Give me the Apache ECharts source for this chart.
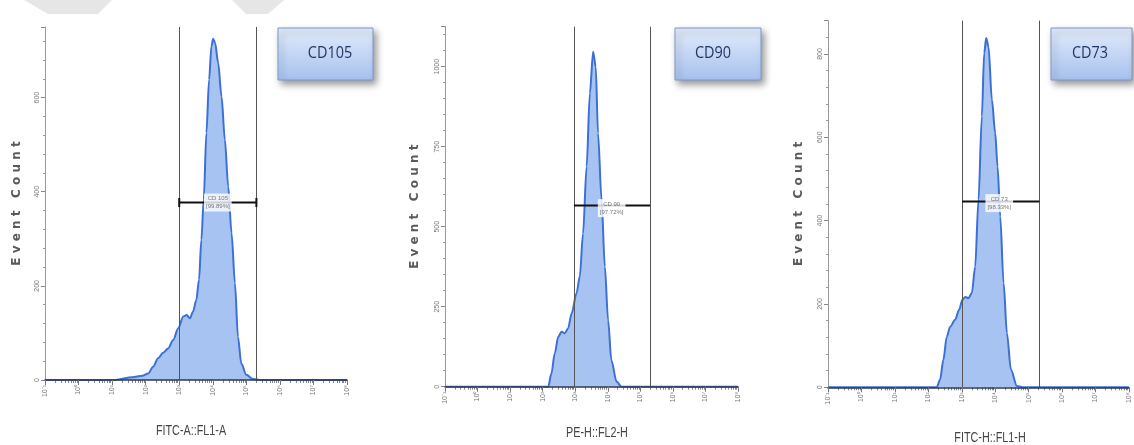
<!DOCTYPE html>
<html>
<head>
<meta charset="utf-8">
<script src="https://cdn.jsdelivr.net/npm/echarts@6/dist/echarts.min.js"></script>
<style>
  html, body { margin: 0; padding: 0; background: #fff; }
  #chart { width: 1134px; height: 445px; }
</style>
</head>
<body>
<div id="chart"></div>
<script>
// x axis: log10 of fluorescence intensity, one tick per decade
const decades = [-1, 0, 1, 2, 3, 4, 5, 6, 7, 8];

// CD105 histogram (log10 intensity / event count)
const cd105Log = [-1, 1.1, 1.6, 1.9, 2.08, 2.22, 2.37, 2.52, 2.67, 2.82, 2.97, 3.12, 3.22, 3.32, 3.41, 3.51, 3.59, 3.66, 3.73, 3.81, 3.89, 3.96, 4.01, 4.07, 4.16, 4.26, 4.36, 4.46, 4.56, 4.66, 4.75, 4.85, 5.0, 5.2, 5.4, 8];
const cd105Count = [0, 0, 6, 9, 14, 28, 46, 58, 67, 85, 110, 135, 138, 131, 145, 170, 213, 298, 383, 525, 638, 709, 725, 716, 674, 603, 511, 411, 312, 206, 92, 35, 11, 2, 0, 0];

// CD90 histogram
const cd90Log = [-1, 2.17, 2.27, 2.37, 2.48, 2.58, 2.68, 2.78, 2.89, 3.04, 3.14, 3.24, 3.35, 3.45, 3.55, 3.63, 3.70, 3.81, 3.91, 4.01, 4.11, 4.27, 4.42, 8];
const cd90Count = [0, 0, 42, 104, 156, 172, 167, 182, 229, 292, 344, 479, 688, 917, 1047, 1000, 792, 583, 375, 208, 83, 16, 0, 0];

// CD73 histogram
const cd73Log = [-1, 2.25, 2.35, 2.45, 2.55, 2.65, 2.80, 2.92, 3.02, 3.10, 3.20, 3.30, 3.40, 3.50, 3.60, 3.67, 3.73, 3.80, 3.90, 4.00, 4.07, 4.15, 4.25, 4.35, 4.47, 4.65, 4.85, 8];
const cd73Count = [0, 0, 18, 66, 121, 145, 162, 186, 210, 217, 214, 226, 289, 450, 650, 802, 838, 817, 690, 610, 530, 410, 250, 130, 42, 3, 0, 0];

// panel texts and axis ranges
const markers = ['CD105', 'CD90', 'CD73'];
const xTitles = ['FITC-A::FL1-A', 'PE-H::FL2-H', 'FITC-H::FL1-H'];
const yMax = [750, 1125, 880];
const yStep = [200, 250, 200];

// gate (log10 from / to), bar height, gate label
const gateFrom = [3.0, 2.96, 3.01];
const gateTo = [5.3, 5.3, 5.32];
const gateLevel = [377, 566, 446];
const gateText = ['CD 105\n[99.89%]', 'CD 90\n[97.72%]', 'CD 73\n[98.33%]'];
const gateTextLog = [4.15, 4.12, 4.12];
const gateTextCount = [377, 558, 442];

const histLog = [cd105Log, cd90Log, cd73Log];
const histCount = [cd105Count, cd90Count, cd73Count];

// layout (pixels)
const rects = [
  { left: 45, top: 27, width: 302, height: 353 },
  { left: 445, top: 26.7, width: 293, height: 360 },
  { left: 828, top: 20.6, width: 301, height: 366.7 }
];
const yNameGap = [22, 24, 23];
const xTitlePos = [[191, 431], [597, 433], [990, 438]];
const boxes = [
  { x: 278, y: 28, w: 95, h: 52, tx: 330 },
  { x: 675, y: 28, w: 86, h: 52, tx: 713 },
  { x: 1051, y: 28, w: 81, h: 52, tx: 1090 }
];

const supMap = { '-': '⁻', '0': '⁰', '1': '¹', '2': '²', '3': '³', '4': '⁴', '5': '⁵', '6': '⁶', '7': '⁷', '8': '⁸', '9': '⁹' };
function pow10(v) {
  return '10' + String(v).split('').map(c => supMap[c] || c).join('');
}

// log-spaced minor ticks (2..9 inside every decade)
const minorTicks = [];
for (let d = decades[0]; d < decades[decades.length - 1]; d++) {
  for (let k = 2; k <= 9; k++) minorTicks.push(d + Math.log10(k));
}

const chart = echarts.init(document.getElementById('chart'));

const grid = [], xAxis = [], yAxis = [], series = [], graphic = [];

for (let i = 0; i < 3; i++) {
  // main grid + an overlay grid for the minor log ticks
  grid.push(rects[i]);
  grid.push(rects[i]);
  const g = 2 * i;

  xAxis.push({
    gridIndex: g,
    type: 'value',
    min: -1,
    max: 8,
    interval: 1,
    z: 5,
    axisLine: { lineStyle: { color: '#2f3850', width: 1.5 } },
    axisTick: { length: 5, lineStyle: { color: '#777' } },
    axisLabel: { rotate: 90, fontSize: 7, color: '#777', margin: 5, formatter: v => pow10(v) },
    splitLine: { show: false }
  });
  xAxis.push({
    gridIndex: g + 1,
    type: 'value',
    min: -1,
    max: 8,
    axisLine: { show: false },
    axisTick: { customValues: minorTicks, length: 3, lineStyle: { color: '#888' } },
    axisLabel: { show: false },
    splitLine: { show: false }
  });

  yAxis.push({
    gridIndex: g,
    type: 'value',
    min: 0,
    max: yMax[i],
    interval: yStep[i],
    axisLine: { show: true, onZero: false, lineStyle: { color: '#999' } },
    axisTick: { show: true, length: 4, lineStyle: { color: '#888' } },
    minorTick: { show: true, splitNumber: 5, length: 2, lineStyle: { color: '#999' } },
    axisLabel: { rotate: 90, fontSize: 7, color: '#777', margin: 4, showMaxLabel: false, formatter: v => String(v) },
    splitLine: { show: false },
    name: 'E v e n t   C o u n t',
    nameLocation: 'middle',
    nameRotate: 90,
    nameGap: yNameGap[i],
    nameTextStyle: { fontFamily: '"DejaVu Sans", sans-serif', fontWeight: 'bold', fontSize: 12, color: '#5a5a5a' }
  });
  yAxis.push({ gridIndex: g + 1, type: 'value', min: 0, max: yMax[i], show: false });

  // histogram
  series.push({
    type: 'line',
    xAxisIndex: g,
    yAxisIndex: g,
    data: histLog[i].map((x, j) => [x, histCount[i][j]]),
    showSymbol: false,
    smooth: 0.3,
    smoothMonotone: 'x',
    lineStyle: { color: '#3c70d6', width: 2 },
    areaStyle: { color: '#9dbcf0', opacity: 0.9 },
    markLine: {
      silent: true,
      symbol: 'none',
      label: { show: false },
      lineStyle: { color: '#555', width: 1, type: 'solid' },
      data: [{ xAxis: gateFrom[i] }, { xAxis: gateTo[i] }]
    },
    z: 2
  });

  // gate bar
  series.push({
    type: 'line',
    xAxisIndex: g,
    yAxisIndex: g,
    data: [[gateFrom[i], gateLevel[i]], [gateTo[i], gateLevel[i]]],
    symbol: i === 0 ? 'rect' : 'none',
    symbolSize: [2, 9],
    itemStyle: { color: '#111' },
    lineStyle: { color: '#111', width: 2 },
    z: 6
  });

  // gate label
  series.push({
    type: 'scatter',
    xAxisIndex: g,
    yAxisIndex: g,
    data: [[gateTextLog[i], gateTextCount[i]]],
    symbolSize: 1,
    itemStyle: { color: 'rgba(0,0,0,0)' },
    label: {
      show: true,
      position: 'inside',
      formatter: gateText[i],
      fontSize: 6,
      lineHeight: 8,
      color: '#555',
      fontFamily: '"Liberation Sans Narrow", sans-serif',
      backgroundColor: '#fff',
      padding: [1, 2]
    },
    z: 7
  });

  // x axis title, condensed like the original
  graphic.push({
    type: 'text',
    x: xTitlePos[i][0],
    y: xTitlePos[i][1],
    scaleX: 0.72,
    style: {
      text: xTitles[i],
      x: 0,
      y: 0,
      align: 'center',
      verticalAlign: 'middle',
      fontFamily: '"Liberation Sans", sans-serif',
      fontSize: 15,
      fill: '#444'
    },
    z: 3
  });

  // marker title boxes
  const b = boxes[i];
  graphic.push({
    type: 'rect',
    shape: { x: b.x, y: b.y, width: b.w, height: b.h },
    style: {
      fill: new echarts.graphic.LinearGradient(0, 0, 0, 1, [
        { offset: 0, color: '#e2ebfb' },
        { offset: 1, color: '#a6c1ee' }
      ]),
      stroke: '#7d98c6',
      lineWidth: 1,
      shadowBlur: 7,
      shadowOffsetX: 3,
      shadowOffsetY: 4,
      shadowColor: 'rgba(0,0,0,0.4)'
    },
    z: 10
  });
  graphic.push({
    type: 'text',
    x: b.tx,
    y: b.y + b.h / 2 - 1,
    scaleX: 0.85,
    style: {
      text: markers[i],
      x: 0,
      y: 0,
      align: 'center',
      verticalAlign: 'middle',
      fontFamily: '"Open Sans", sans-serif',
      fontSize: 17,
      fill: '#1f3763'
    },
    z: 11
  });
}

// light grey shapes along the top edge
graphic.push({ type: 'polygon', shape: { points: [[24, 0], [112, 0], [98, 14], [48, 14]] }, style: { fill: '#e6e6e6' }, z: 0 });
graphic.push({ type: 'polygon', shape: { points: [[232, 0], [284, 0], [268, 14], [246, 14]] }, style: { fill: '#e6e6e6' }, z: 0 });

chart.setOption({
  animation: false,
  backgroundColor: '#fff',
  grid: grid,
  xAxis: xAxis,
  yAxis: yAxis,
  series: series,
  graphic: graphic
});
</script>
</body>
</html>
